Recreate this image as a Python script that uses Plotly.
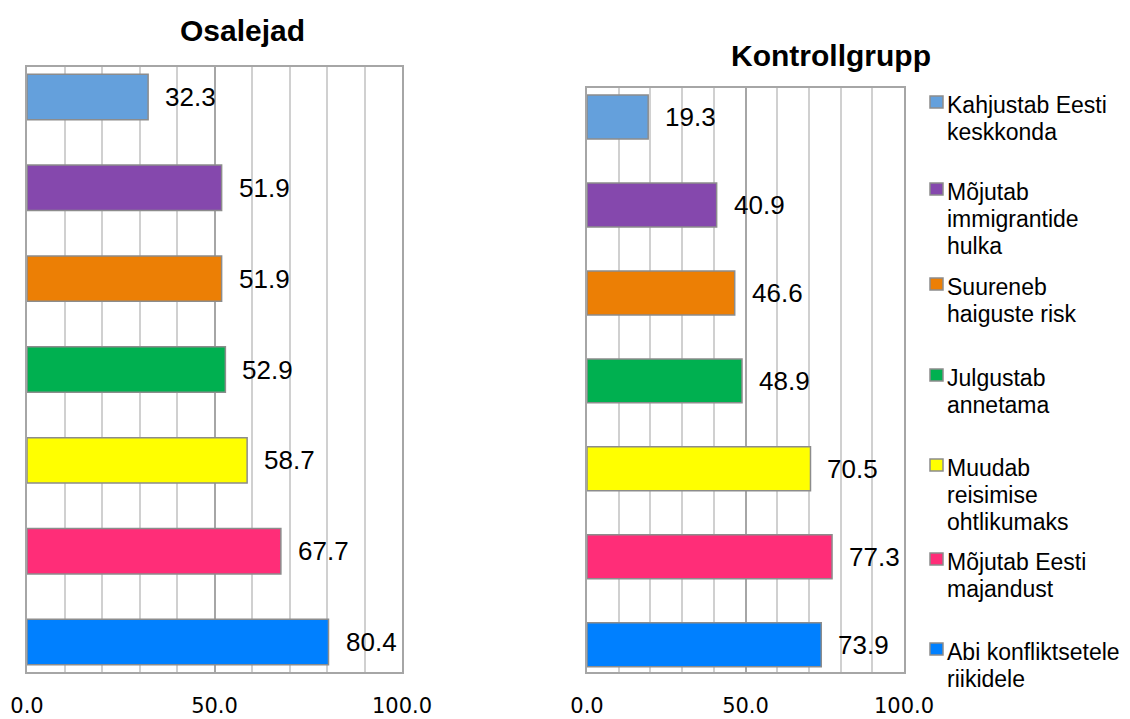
import plotly.graph_objects as go

# ---------------- data ----------------
categories = [
    "Kahjustab Eesti keskkonda",
    "Mõjutab immigrantide hulka",
    "Suureneb haiguste risk",
    "Julgustab annetama",
    "Muudab reisimise ohtlikumaks",
    "Mõjutab Eesti majandust",
    "Abi konfliktsetele riikidele",
]
legend_lines = [
    ["Kahjustab Eesti", "keskkonda"],
    ["Mõjutab", "immigrantide", "hulka"],
    ["Suureneb", "haiguste risk"],
    ["Julgustab", "annetama"],
    ["Muudab", "reisimise", "ohtlikumaks"],
    ["Mõjutab Eesti", "majandust"],
    ["Abi konfliktsetele", "riikidele"],
]
osalejad = [32.3, 51.9, 51.9, 52.9, 58.7, 67.7, 80.4]
kontrollgrupp = [19.3, 40.9, 46.6, 48.9, 70.5, 77.3, 73.9]
colors = ["#64a0dc", "#8548ad", "#ec7f05", "#00b050", "#ffff00", "#ff2d78", "#0080ff"]
x_tick_vals = [0, 50, 100]
x_tick_text = ["0.0", "50.0", "100.0"]
titles = ["Osalejad", "Kontrollgrupp"]

# ---------------- layout helpers ----------------
# the page body has an 8px margin, so the figure is drawn at (8, 8)
OFF = 8
W, H = 1130 - OFF, 719 - OFF


def px(x):
    return (x - OFF) / W


def py(y):
    return 1 - (y - OFF) / H


LABEL_FONT = dict(family="Liberation Sans, Arial, sans-serif", size=26, color="#000000")
TICK_FONT = dict(family="DejaVu Sans, sans-serif", size=21, color="#000000")
LEG_FONT = dict(family="Liberation Sans, Arial, sans-serif", size=23, color="#000000")
TITLE_FONT = dict(family="Liberation Sans, Arial, sans-serif", size=30, color="#000000")

fig = go.Figure()

panels = [
    dict(vals=osalejad, xa="x", ya="y", xdom=(27, 402), ydom=(672, 67), yr=[6.33, -0.33],
         title=titles[0], tx=242, ty=31),
    dict(vals=kontrollgrupp, xa="x2", ya="y2", xdom=(587, 904), ydom=(672, 88), yr=[6.31, -0.33],
         title=titles[1], tx=831, ty=56),
]

annotations = []
shapes = []

for k, p in enumerate(panels):
    fig.add_trace(go.Bar(
        x=p["vals"], y=categories, orientation="h",
        marker=dict(color=colors, line=dict(color="#8c8c8c", width=1.5)),
        width=0.5, xaxis=p["xa"], yaxis=p["ya"], showlegend=False,
        hovertemplate="%{y}: %{x:.1f}<extra></extra>",
    ))
    suffix = "" if k == 0 else "2"
    xaxis = dict(
        domain=[px(p["xdom"][0]), px(p["xdom"][1])], range=[0, 100],
        anchor="y" + suffix, automargin=False,
        tickmode="array", tickvals=x_tick_vals, ticktext=x_tick_text,
        tickfont=TICK_FONT, ticks="", ticklabelstandoff=14,
        showgrid=True, gridcolor="#a6a6a6", gridwidth=1.5,
        minor=dict(dtick=10, showgrid=True, gridcolor="#d0d0d0", gridwidth=1.5),
        showline=True, linecolor="#a6a6a6", linewidth=1.5, mirror=True,
        zeroline=False, fixedrange=True,
    )
    yaxis = dict(
        domain=[py(p["ydom"][0]), py(p["ydom"][1])],
        anchor="x" + suffix, type="category", categoryorder="array",
        categoryarray=categories, range=p["yr"], automargin=False,
        showticklabels=False, showgrid=False, zeroline=False,
        showline=True, linecolor="#a6a6a6", linewidth=1.5, mirror=True,
        ticks="", fixedrange=True,
    )
    fig.update_layout({"xaxis" + suffix: xaxis, "yaxis" + suffix: yaxis})

    for cat, v in zip(categories, p["vals"]):
        annotations.append(dict(
            x=v, y=cat, xref=p["xa"], yref=p["ya"], text=f"{v:.1f}",
            xanchor="left", yanchor="middle", xshift=15, showarrow=False,
            font=LABEL_FONT,
        ))
    annotations.append(dict(
        x=px(p["tx"]), y=py(p["ty"]), xref="paper", yref="paper",
        text="<b>" + p["title"] + "</b>", showarrow=False,
        xanchor="center", yanchor="middle", font=TITLE_FONT,
    ))

# ---------------- legend (manual) ----------------
legend_first_line_y = [105, 192, 287, 378, 468, 562, 652]
LINE_STEP = 27
for lines, c, y0 in zip(legend_lines, colors, legend_first_line_y):
    shapes.append(dict(
        type="rect", xref="paper", yref="paper",
        x0=px(930), x1=px(943), y0=py(y0 - 9), y1=py(y0 + 3),
        fillcolor=c, line=dict(color="#8c8c8c", width=1.5),
    ))
    for j, ln in enumerate(lines):
        annotations.append(dict(
            x=px(945), y=py(y0 + j * LINE_STEP), xref="paper", yref="paper",
            text=ln, showarrow=False, xanchor="left", yanchor="middle",
            font=LEG_FONT,
        ))

fig.update_layout(
    width=W, height=H,
    margin=dict(l=0, r=0, t=0, b=0, autoexpand=False),
    paper_bgcolor="white", plot_bgcolor="white",
    showlegend=False, bargap=0.5,
    annotations=annotations, shapes=shapes,
)

fig.write_html("out.html")
